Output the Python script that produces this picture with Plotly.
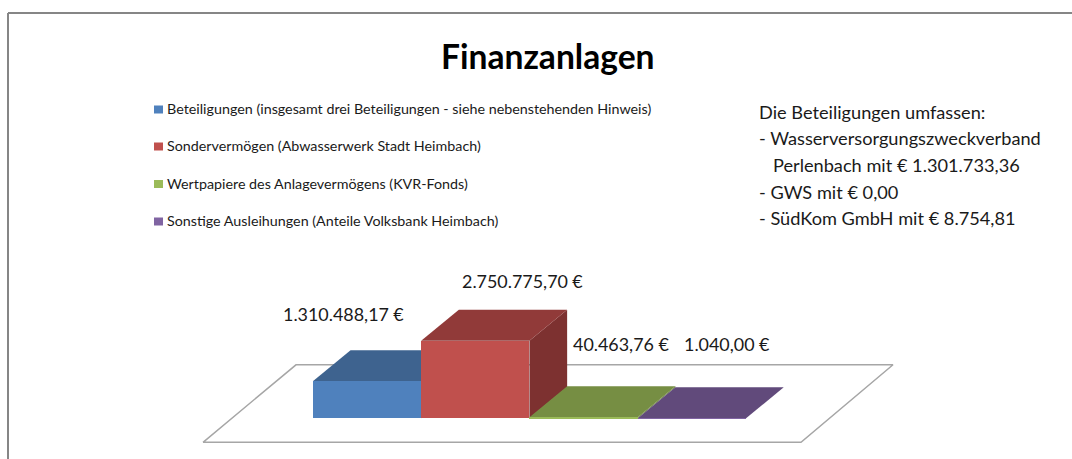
import plotly.graph_objects as go

# ---- data ----
categories = [
    "Beteiligungen (insgesamt drei Beteiligungen - siehe nebenstehenden Hinweis)",
    "Sondervermögen (Abwasserwerk Stadt Heimbach)",
    "Wertpapiere des Anlagevermögens (KVR-Fonds)",
    "Sonstige Ausleihungen (Anteile Volksbank Heimbach)",
]
values = [1310488.17, 2750775.70, 40463.76, 1040.00]
title = "Finanzanlagen"
note_lines = [
    "Die Beteiligungen umfassen:",
    "- Wasserversorgungszweckverband",
    "\u00a0\u00a0\u00a0Perlenbach mit € 1.301.733,36",
    "- GWS mit € 0,00",
    "- SüdKom GmbH mit € 8.754,81",
]

# ---- styles ----
front = ["#4f81bd", "#c0504d", "#9bbb59", "#8064a2"]
top = ["#3e638f", "#913a39", "#768e43", "#614a7b"]
side = ["#34547a", "#7d3130", "#657a39", "#523f69"]
W, H = 1072, 459
FONT = "Lato"
INK = "#1a1a1a"

# pixel geometry of the axes
X0_PX, CAT_PX = 367.0, 108.3
BASE_PX, PX_PER_UNIT = 418.3, 77.6 / 2750775.70
x_range = [-X0_PX / CAT_PX, (W - X0_PX) / CAT_PX]
y_range = [(BASE_PX - H) / PX_PER_UNIT, BASE_PX / PX_PER_UNIT]
DX = 37.7 / CAT_PX          # depth offset in category units
DY = 31.0 / PX_PER_UNIT     # depth offset in value units
FL = 24.0 / PX_PER_UNIT     # floor front edge below the baseline
BK = 53.5 / PX_PER_UNIT     # floor back edge above the baseline


def de(v):
    s = f"{v:,.2f}".replace(",", "X").replace(".", ",").replace("X", ".")
    return s + "\u202f€"


fig = go.Figure()

# floor
fl_x = [(203 - X0_PX) / CAT_PX, (296 - X0_PX) / CAT_PX, (893 - X0_PX) / CAT_PX,
        (801 - X0_PX) / CAT_PX, (203 - X0_PX) / CAT_PX]
fl_y = [-FL, BK, BK, -FL, -FL]
fig.add_trace(go.Scatter(x=fl_x, y=fl_y, mode="lines", fill="toself", fillcolor="#ffffff",
                         line=dict(color="#a6a6a6", width=1.5), hoverinfo="skip", showlegend=False))

# top and side faces
for i, v in enumerate(values):
    l, r = i - 0.5, i + 0.5
    fig.add_trace(go.Scatter(x=[r, r + DX, r + DX, r, r], y=[0, DY, v + DY, v, 0], mode="lines",
                             fill="toself", fillcolor=side[i], line=dict(width=0),
                             hoverinfo="skip", showlegend=False))
    fig.add_trace(go.Scatter(x=[l, l + DX, r + DX, r, l], y=[v, v + DY, v + DY, v, v], mode="lines",
                             fill="toself", fillcolor=top[i], line=dict(width=0),
                             hoverinfo="skip", showlegend=False))

# front faces, on an overlaying axis pair so they stay above the faces behind them
fig.add_trace(go.Bar(x=list(range(len(values))), y=values, width=1.0, marker=dict(color=front, line=dict(width=0)),
                     xaxis="x2", yaxis="y2", hovertext=categories, hoverinfo="text+y", showlegend=False))


def px_x(p):
    return p / W


def px_y(p):
    return 1 - p / H


ann = []
shapes = [
    dict(type="line", xref="paper", yref="paper", x0=px_x(8), x1=1, y0=px_y(13), y1=px_y(13),
         line=dict(color="#868686", width=2)),
    dict(type="line", xref="paper", yref="paper", x0=px_x(8), x1=px_x(8), y0=px_y(13), y1=0,
         line=dict(color="#868686", width=2)),
]


def text(s, x, y, size, anchor="left", bold=False):
    ann.append(dict(text=f"<b>{s}</b>" if bold else s, xref="paper", yref="paper", x=px_x(x), y=px_y(y),
                    xanchor=anchor, yanchor="middle", showarrow=False, align="left",
                    font=dict(family=FONT, size=size, color=INK if not bold else "#000000")))


text(title, 548, 56, 33.6, anchor="center", bold=True)

legend_y = [108.5, 145.5, 183, 220.5]
for name, c, y in zip(categories, front, legend_y):
    shapes.append(dict(type="rect", xref="paper", yref="paper", x0=px_x(154), x1=px_x(163),
                       y0=px_y(y + 1 - 4), y1=px_y(y + 1 + 4), fillcolor=c, line=dict(width=0)))
    text(name, 165, y, 14.3)

for s, y in zip(note_lines, [112, 138, 165, 192, 218]):
    text(s, 757, y, 18.2)

label_pos = [(343, 314), (522, 281), (621, 344), (727, 344)]
for v, (x, y) in zip(values, label_pos):
    text(de(v), x, y, 17.9, anchor="center")

axis = dict(visible=False, fixedrange=True)
fig.update_layout(
    width=W, height=H, margin=dict(l=0, r=0, t=0, b=0, pad=0),
    paper_bgcolor="#ffffff", plot_bgcolor="#ffffff",
    showlegend=False, bargap=0,
    xaxis=dict(range=x_range, **axis),
    yaxis=dict(range=y_range, **axis),
    xaxis2=dict(range=x_range, overlaying="x", **axis),
    yaxis2=dict(range=y_range, overlaying="y", **axis),
    shapes=shapes, annotations=ann,
)
fig.write_html("out.html", config=dict(displayModeBar=False),
               post_script="document.body.style.margin='0';document.body.style.overflow='hidden';")
